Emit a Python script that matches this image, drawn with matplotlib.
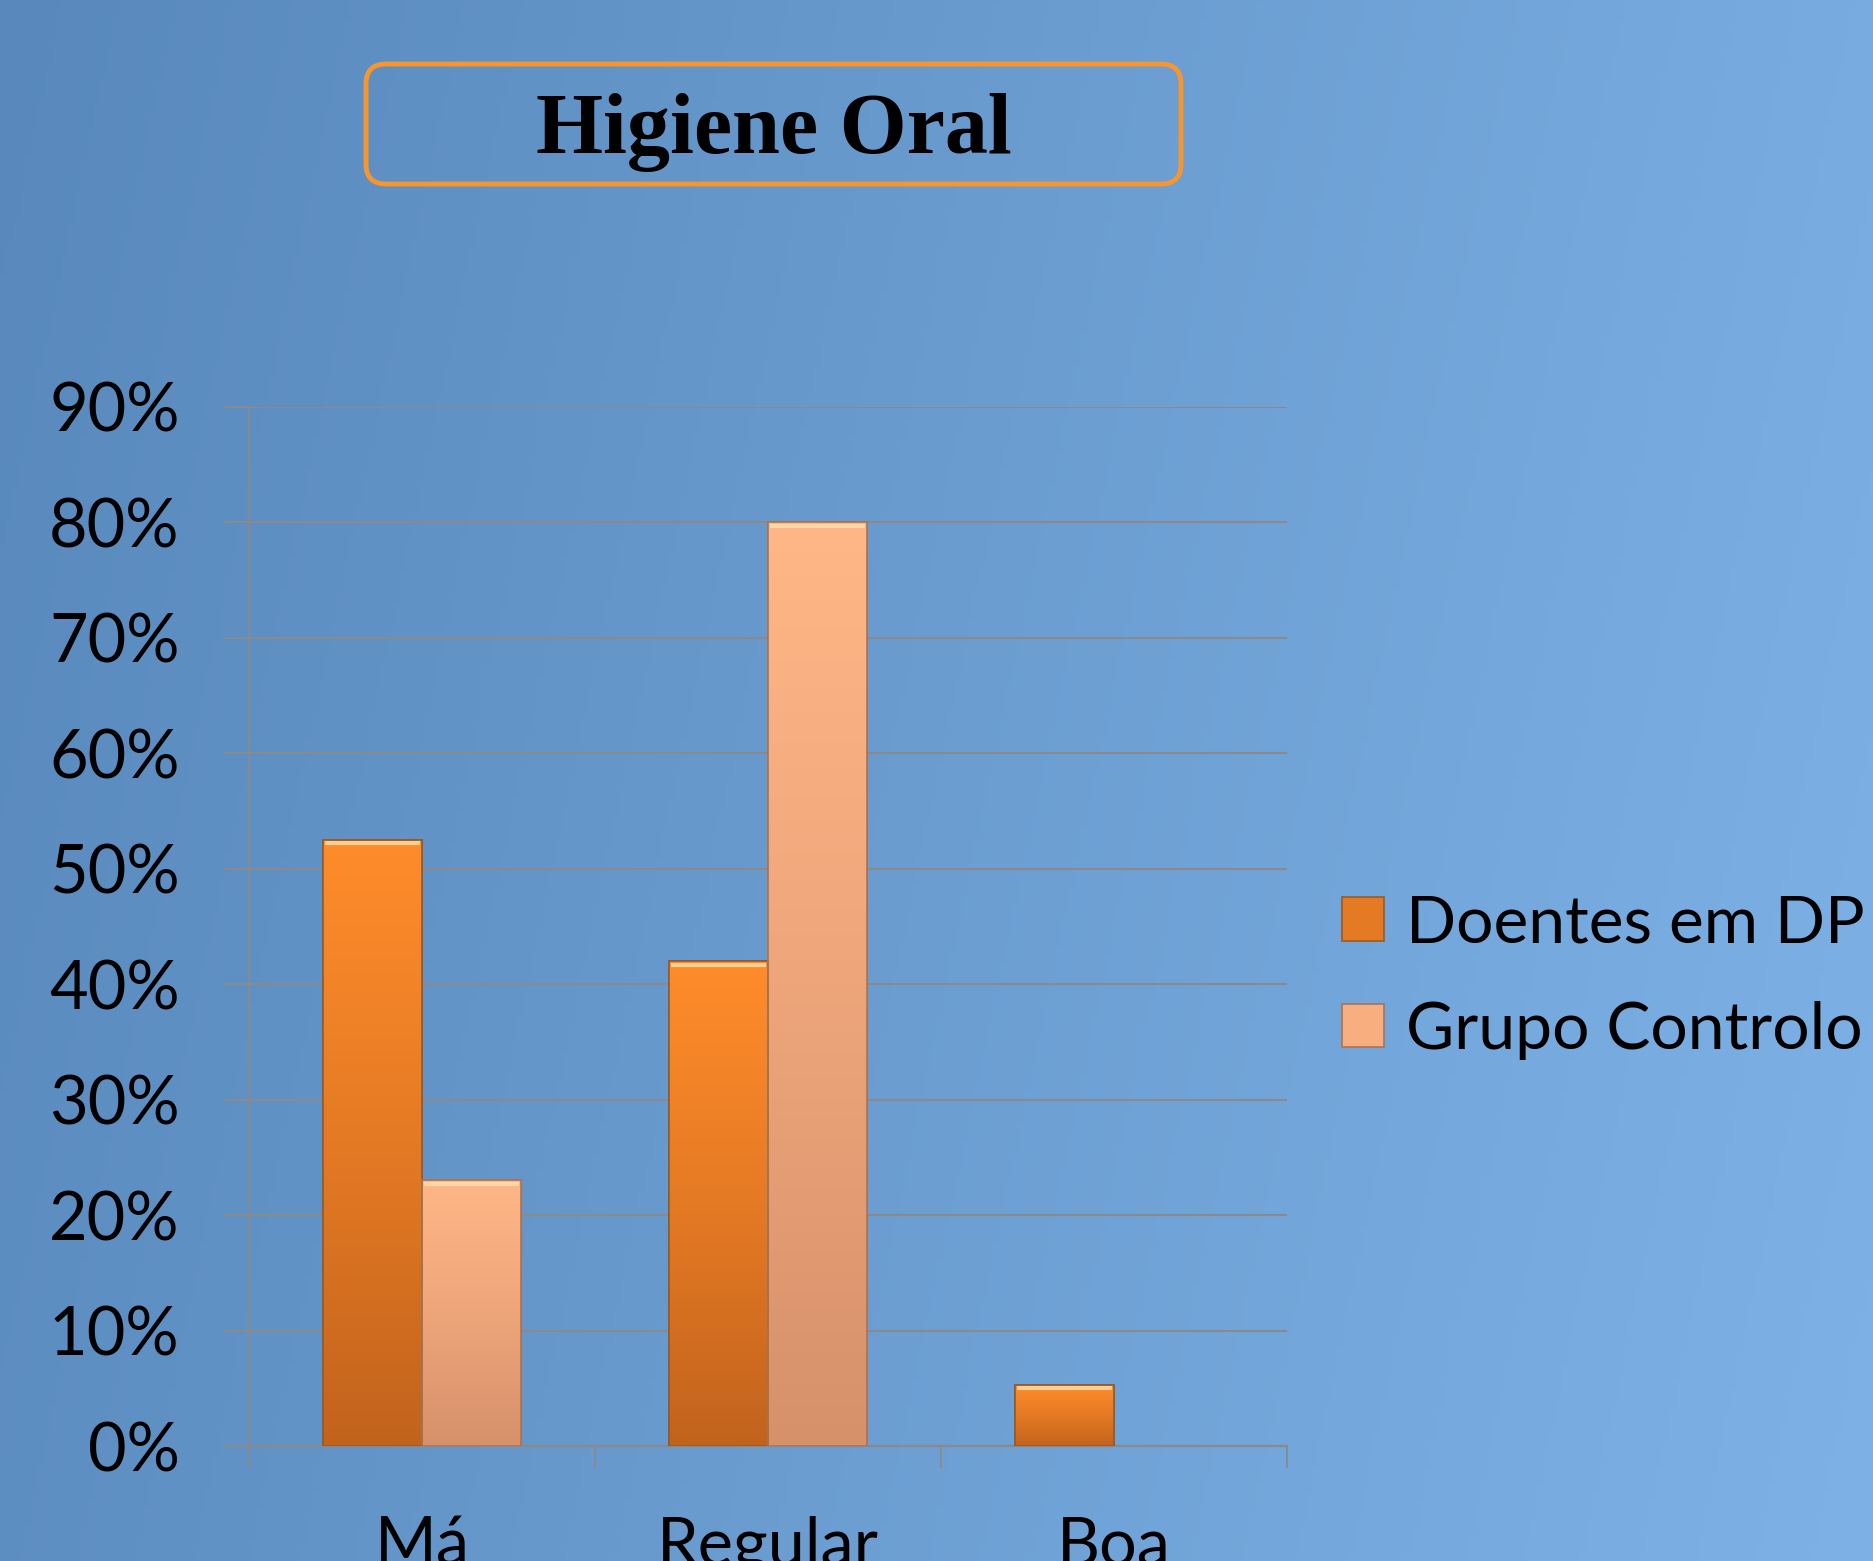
import numpy as np
import matplotlib
matplotlib.use("Agg")
import matplotlib.pyplot as plt
from matplotlib.patches import FancyBboxPatch, Patch
from matplotlib.colors import LinearSegmentedColormap
from matplotlib.ticker import FuncFormatter, FixedLocator

# ---- data ----
categories = ["Má", "Regular", "Boa"]
doentes_dp = [0.525, 0.42, 0.053]
grupo_controlo = [0.23, 0.80, 0.0]
series_names = ["Doentes em DP", "Grupo Controlo"]
title = "Higiene Oral"
yticks = [0, 0.1, 0.2, 0.3, 0.4, 0.5, 0.6, 0.7, 0.8, 0.9]

W, H, DPI = 1874, 1561, 100
fig = plt.figure(figsize=(W / DPI, H / DPI), dpi=DPI)

# background gradient
bg = fig.add_axes([0, 0, 1, 1], zorder=-10)
bg.axis("off")
xx, yy = np.meshgrid(np.linspace(0, 1, 300), np.linspace(0, 1, 300))
t = np.clip(0.85 * xx + 0.15 * yy, 0, 1)  # yy=0 top (origin upper)
c_left = np.array([88, 136, 188]) / 255
c_right = np.array([126, 178, 230]) / 255
img = c_left[None, None, :] * (1 - t[..., None]) + c_right[None, None, :] * t[..., None]
bg.imshow(img, extent=[0, 1, 0, 1], aspect="auto", origin="upper")
bg.set_xlim(0, 1)
bg.set_ylim(0, 1)

# main axes
ax = fig.add_axes([249 / W, 1 - 1446 / H, (1287 - 249) / W, (1446 - 407) / H])
ax.set_facecolor("none")
for s in ["top", "right"]:
    ax.spines[s].set_visible(False)
grid_c = "#8a8a8a"
ax.spines["left"].set_color(grid_c)
ax.spines["bottom"].set_color(grid_c)
ax.spines["left"].set_linewidth(1.3)
ax.spines["bottom"].set_linewidth(1.6)

x = np.arange(len(categories))
w = 0.285
dp_bars = ax.bar(x - w / 2, doentes_dp, w, color="#F5832A", edgecolor="#9a5a22", linewidth=1.2, zorder=3)
gc_bars = ax.bar(x + w / 2, grupo_controlo, w, color="#F9AE80", edgecolor="#a87458", linewidth=1.2, zorder=3)

cmap_dp = LinearSegmentedColormap.from_list("dp", ["#C2631D", "#E57A24", "#FF8C2B"])
cmap_gc = LinearSegmentedColormap.from_list("gc", ["#D6916B", "#EEA57A", "#FFB787"])
grad = np.linspace(0, 1, 256).reshape(-1, 1)
for bars, cm in [(dp_bars, cmap_dp), (gc_bars, cmap_gc)]:
    for b in bars:
        h = b.get_height()
        if h <= 0:
            b.set_visible(False)
            continue
        x0, y0, bw = b.get_x(), b.get_y(), b.get_width()
        im = ax.imshow(grad, extent=[x0, x0 + bw, y0, y0 + h], origin="lower",
                       aspect="auto", cmap=cm, zorder=3.5)
        im.set_clip_path(b)
        # bevel highlight at top
        ax.plot([x0 + bw * 0.02, x0 + bw * 0.98], [y0 + h - 0.003, y0 + h - 0.003],
                color="#FFE0B0", lw=3, alpha=0.8, zorder=4, solid_capstyle="butt")
        ax.add_patch(plt.Rectangle((x0, y0), bw, h, fill=False, edgecolor=b.get_edgecolor(),
                                   linewidth=1.2, zorder=4.5))

ax.set_xlim(-0.5, len(categories) - 0.5)
ax.set_ylim(0, 0.9)
ax.yaxis.set_major_locator(FixedLocator(yticks))
ax.yaxis.set_major_formatter(FuncFormatter(lambda v, p: f"{v * 100:.0f}%"))
ax.grid(axis="y", color=grid_c, linewidth=1.5, zorder=0)
ax.set_axisbelow(True)

ax.set_xticks(x)
ax.set_xticklabels(categories)
ax.set_xticks(np.arange(-0.5, len(categories)), minor=True)
ax.tick_params(axis="x", which="major", length=0, pad=50, labelsize=48)
ax.tick_params(axis="x", which="minor", length=16, width=1.3, color=grid_c, direction="out")
ax.tick_params(axis="y", which="major", length=17, width=1.5, color=grid_c, pad=33, labelsize=48)
for lab in ax.get_xticklabels() + ax.get_yticklabels():
    lab.set_fontfamily("Lato")
    lab.set_color("black")

# title with rounded box
box = FancyBboxPatch((366 / DPI, (H - 184) / DPI), 815 / DPI, 120 / DPI,
                     boxstyle="round,pad=0,rounding_size=0.2",
                     transform=fig.dpi_scale_trans, facecolor="none",
                     edgecolor="#F7962F", linewidth=3.5)
fig.patches.append(box)
fig.text(774 / W, 1 - 133 / H, title, ha="center", va="center",
         fontsize=62, fontweight="bold", family="Liberation Serif", color="black")

# legend
handles = [Patch(facecolor="#E57A24", edgecolor="#9a5a22", linewidth=1.2),
           Patch(facecolor="#F9AE80", edgecolor="#a87458", linewidth=1.2)]
leg = fig.legend(handles, series_names, loc="center left",
                 bbox_to_anchor=(1342 / W, 1 - 977 / H), frameon=False,
                 prop={"family": "Lato", "size": 47.5}, handlelength=0.64, handleheight=0.64,
                 handletextpad=0.33, labelspacing=0.72, borderpad=0, borderaxespad=0)

fig.savefig("out.png", dpi=DPI)
